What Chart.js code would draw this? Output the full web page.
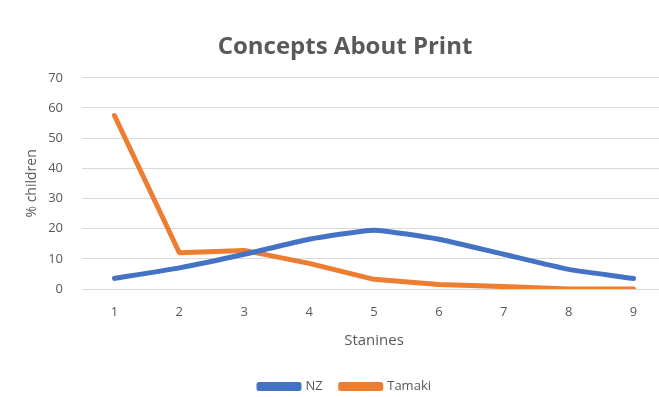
<!DOCTYPE html>
<html>
<head>
<meta charset="utf-8">
<script src="https://cdn.jsdelivr.net/npm/chart.js@4/dist/chart.umd.min.js"></script>
<style>
  html, body { margin: 0; padding: 0; background: #ffffff; overflow: hidden; }
  #wrap { position: relative; width: 666px; height: 403px; }
</style>
</head>
<body>
<div id="wrap"><canvas id="chart" width="666" height="403"></canvas></div>
<script>
// Stanine categories and the share of children in each (percent)
const stanines = ['1', '2', '3', '4', '5', '6', '7', '8', '9'];
const nzValues = [3.5, 7, 11.5, 16.5, 19.5, 16.5, 11.5, 6.5, 3.5];
const tamakiValues = [57.5, 12, 12.8, 8.5, 3.2, 1.5, 0.8, 0, 0];
const yTicks = [0, 10, 20, 30, 40, 50, 60, 70];

const textGrey = '#595959';
const baseFont = "'Open Sans', 'Liberation Sans', sans-serif";

new Chart(document.getElementById('chart'), {
  type: 'line',
  data: {
    labels: stanines,
    datasets: [
      {
        label: 'NZ',
        data: nzValues,
        borderColor: '#4472C4',
        backgroundColor: '#4472C4',
        borderWidth: 5,
        pointRadius: 0,
        tension: 0.15,
        borderCapStyle: 'round',
        borderJoinStyle: 'round'
      },
      {
        label: 'Tamaki',
        data: tamakiValues,
        borderColor: '#ED7D31',
        backgroundColor: '#ED7D31',
        borderWidth: 5,
        pointRadius: 0,
        tension: 0,
        borderCapStyle: 'round',
        borderJoinStyle: 'round'
      }
    ]
  },
  options: {
    responsive: false,
    animation: false,
    layout: { padding: { top: 33, left: 24, right: 0, bottom: 0 } },
    plugins: {
      title: {
        display: true,
        text: 'Concepts About Print',
        color: textGrey,
        font: { family: baseFont, size: 24, weight: 'bold' },
        padding: { top: 0, bottom: 16 }
      },
      legend: {
        position: 'bottom',
        labels: {
          color: textGrey,
          font: { family: baseFont, size: 13 },
          boxWidth: 40,
          boxHeight: 4,
          padding: 18
        }
      },
      tooltip: { enabled: false }
    },
    scales: {
      x: {
        offset: true,
        grid: { display: false, drawTicks: false },
        border: { display: false },
        ticks: { color: textGrey, font: { family: baseFont, size: 13 }, padding: 15 },
        title: {
          display: true,
          text: 'Stanines',
          color: textGrey,
          font: { family: baseFont, size: 15 },
          padding: { top: 14, bottom: 12 }
        },
        afterFit: (axis) => { axis.height = 73; }
      },
      y: {
        min: 0,
        max: 70,
        afterBuildTicks: (axis) => { axis.ticks = yTicks.map(v => ({ value: v })); },
        grid: { color: '#d9d9d9', lineWidth: 1, drawTicks: false },
        border: { display: false },
        ticks: { color: textGrey, font: { family: baseFont, size: 13 }, padding: 19 },
        title: {
          display: true,
          text: '% children',
          color: textGrey,
          font: { family: baseFont, size: 14 },
          padding: { top: 0, bottom: 0 }
        },
        afterFit: (axis) => { axis.width = 58; }
      }
    }
  }
});
</script>
</body>
</html>
